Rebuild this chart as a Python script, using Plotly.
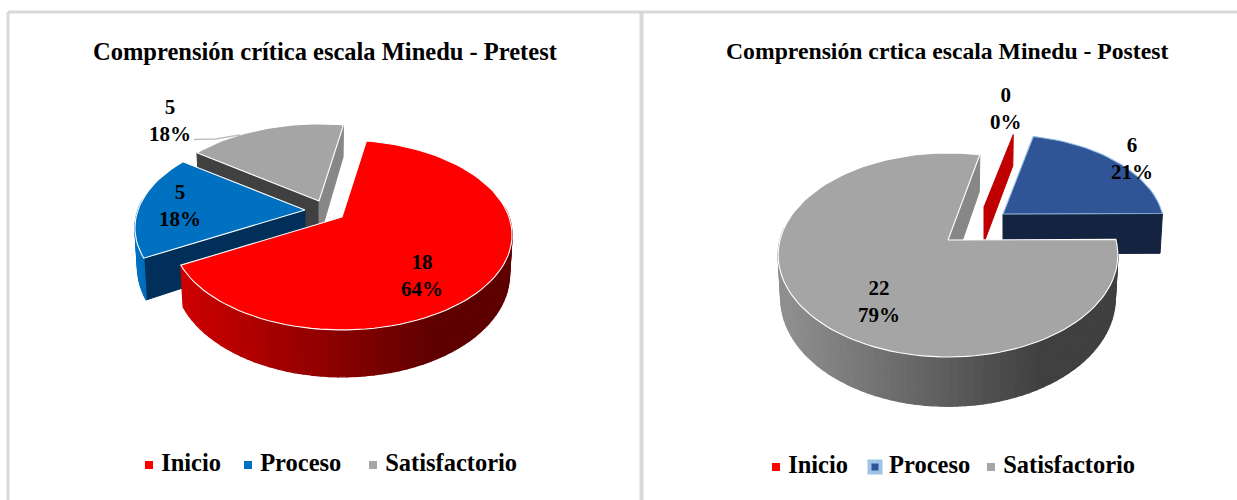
import math
import plotly.graph_objects as go

categories = ["Inicio", "Proceso", "Satisfactorio"]
pretest_values = [18, 5, 5]
postest_values = [0, 6, 22]
pretest_title = "Comprensión crítica escala Minedu - Pretest"
postest_title = "Comprensión crtica escala Minedu - Postest"

FONT = "Liberation Serif"


def mix(c1, c2, t):
    t = max(0.0, min(1.0, t))
    a = [int(c1[i:i + 2], 16) for i in (1, 3, 5)]
    b = [int(c2[i:i + 2], 16) for i in (1, 3, 5)]
    return "rgb(%d,%d,%d)" % tuple(round(p + (q - p) * t) for p, q in zip(a, b))


def project(vertex, geo, angle, radius=1.0, down=False, scale=(1.0, 1.0, 1.0)):
    """Perspective view of a point on the pie's disc (angle clockwise from 12 o'clock)."""
    th = math.radians(angle)
    u, v = radius * math.sin(th), -radius * math.cos(th)
    w = 1 - geo["k"] * v
    x, y = scale[0] * geo["R"] * u / w, scale[1] * geo["S"] * v / w
    if down:
        return vertex[0] + x * 0.985, vertex[1] + y + scale[2] * geo["D"] / w
    return vertex[0] + x, vertex[1] + y


def poly(fig, pts, fill, line=None, width=1.0):
    xs = [p[0] for p in pts] + [pts[0][0]]
    ys = [p[1] for p in pts] + [pts[0][1]]
    fig.add_trace(go.Scatter(x=xs, y=ys, mode="lines", fill="toself", fillcolor=fill,
                             line=dict(color=line or fill, width=width),
                             hoverinfo="skip", showlegend=False))


def cut_face(fig, vertex, geo, angle, color, scale):
    rim = project(vertex, geo, angle, scale=scale)
    rim_d = project(vertex, geo, angle, down=True, scale=scale)
    v_d = project(vertex, geo, angle, radius=0, down=True, scale=scale)
    poly(fig, [vertex, rim, rim_d, v_d], color)


def draw_slice(fig, vertex, geo, a0, a1, st):
    scale = st.get("scale", (1.0, 1.0, 1.0))
    if st.get("start_face"):
        cut_face(fig, vertex, geo, a0, st["start_face"], scale)
    if st.get("end_face"):
        cut_face(fig, vertex, geo, a1, st["end_face"], scale)
    if a1 <= a0:
        return
    n = max(2, int((a1 - a0) / 2.5))
    angles = [a0 + (a1 - a0) * i / n for i in range(n + 1)]
    if st.get("wall"):
        light, dark, x0, x1 = st["wall"]
        for p, q in zip(angles[:-1], angles[1:]):
            if math.cos(math.radians((p + q) / 2)) > 0.12:
                continue
            t1, t2 = project(vertex, geo, p, scale=scale), project(vertex, geo, q, scale=scale)
            b1 = project(vertex, geo, p, down=True, scale=scale)
            b2 = project(vertex, geo, q, down=True, scale=scale)
            c = mix(light, dark, ((t1[0] + t2[0]) / 2 - x0) / (x1 - x0))
            poly(fig, [t1, t2, b2, b1], c, width=1.3)
    top = [vertex] + [project(vertex, geo, a, scale=scale) for a in angles]
    poly(fig, top, st["top"], line=st.get("edge", "#ffffff"), width=1.1)


def spans(values, first_angle):
    total = sum(values)
    out, a = [], first_angle
    for v in values:
        b = a + 360.0 * v / total
        out.append((a, b))
        a = b
    return out


fig = go.Figure()

# Pretest pie
pre_geo = dict(R=167, S=91.6, k=0.189, D=38)
pre_vertex = [(342, 217), (305, 210), (319, 201)]
pre_style = [
    dict(top="#FF0000", wall=("#cc0000", "#5e0000", 185, 435)),
    dict(top="#0070C0", wall=("#0070C0", "#005a9c", 136, 190), start_face="#00305A"),
    dict(top="#A5A5A5", start_face="#404040", end_face="#878787"),
]
pre_span = spans(pretest_values, 10.0)
for i in (2, 1, 0):
    draw_slice(fig, pre_vertex[i], pre_geo, pre_span[i][0], pre_span[i][1], pre_style[i])

# Postest pie
post_geo = dict(R=168, S=99.8, k=0.147, D=42)
post_vertex = [(984, 207), (1003, 214), (948, 240)]
post_style = [
    dict(top="#C00000", end_face="#C00000", scale=(0.92, 0.85, 0.85)),
    dict(top="#2F5597", end_face="#14233F", edge="#9DC3E6", scale=(0.95, 0.91, 0.95)),
    dict(top="#A5A5A5", wall=("#8f8f8f", "#404040", 785, 1040), end_face="#878787"),
]
post_span = spans(postest_values, 12.5)
for i in (1, 0, 2):
    draw_slice(fig, post_vertex[i], post_geo, post_span[i][0], post_span[i][1], post_style[i])

# leader line of the grey pretest label
fig.add_trace(go.Scatter(x=[194, 215, 240], y=[139.5, 139, 135], mode="lines",
                         line=dict(color="#bfbfbf", width=1.5), hoverinfo="skip", showlegend=False))

# Legends
legend_x = [[149, 248, 373], [776, 875, 991]]
legend_y = [465, 467]
legend_colors = [["#FF0000", "#0070C0", "#A5A5A5"], ["#FF0000", "#2F5597", "#A5A5A5"]]
for c in range(2):
    for i, name in enumerate(categories):
        marker = dict(symbol="square", size=8, color=legend_colors[c][i])
        if c == 1 and i == 1:
            marker["size"] = 11
            marker["line"] = dict(color="#9DC3E6", width=4)
        fig.add_trace(go.Scatter(x=[legend_x[c][i]], y=[legend_y[c]], mode="markers+text",
                                 text=[" <b>" + name + "</b>"], textposition="middle right",
                                 textfont=dict(family=FONT, size=24.5, color="#000000"),
                                 marker=marker, name=name, hoverinfo="skip", showlegend=False))

# Data labels
label_xy = [
    [(422, 275), (180, 205), (170, 120)],
    [(1006, 108), (1132, 158), (879, 301)],
]
annotations = []
for c, values in enumerate((pretest_values, postest_values)):
    total = sum(values)
    for i, v in enumerate(values):
        x, y = label_xy[c][i]
        annotations.append(dict(x=x, y=y, xref="x", yref="y", showarrow=False,
                                text="<b>%d<br>%d%%</b>" % (v, round(100 * v / total)),
                                font=dict(family=FONT, size=21, color="#000000"), align="center"))
for x, y, t, s in ((325, 51, pretest_title, 24.5), (947, 51, postest_title, 23.7)):
    annotations.append(dict(x=x, y=y, xref="x", yref="y", showarrow=False, text="<b>%s</b>" % t,
                            font=dict(family=FONT, size=s, color="#000000")))

panel = "#d9d9d9"
shapes = [
    dict(type="line", x0=8, x1=8, y0=12, y1=500, line=dict(color=panel, width=3)),
    dict(type="line", x0=641.5, x1=641.5, y0=12, y1=500, line=dict(color=panel, width=4)),
    dict(type="line", x0=8, x1=1237, y0=12, y1=12, line=dict(color=panel, width=3)),
]

fig.update_layout(
    width=1237, height=500, margin=dict(l=0, r=0, t=0, b=0),
    paper_bgcolor="#ffffff", plot_bgcolor="#ffffff", showlegend=False,
    xaxis=dict(range=[0, 1237], visible=False, fixedrange=True),
    yaxis=dict(range=[500, 0], visible=False, fixedrange=True),
    annotations=annotations, shapes=shapes,
)
fig.write_html("out.html", config={"displayModeBar": False},
               post_script="document.body.style.margin='0';")
